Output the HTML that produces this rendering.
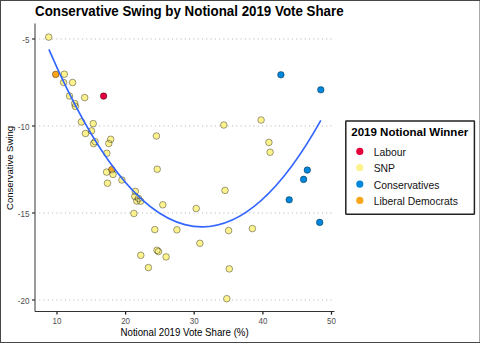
<!DOCTYPE html>
<html><head><meta charset="utf-8"><style>
html,body{margin:0;padding:0;background:#fff;}
svg{display:block;}
text{font-family:"Liberation Sans",sans-serif;}
.tick{font-size:9.2px;fill:#4d4d4d;}
.leg{font-size:10.38px;fill:#111;}
</style></head><body>
<svg width="480" height="343" viewBox="0 0 480 343">
<rect x="0" y="0" width="480" height="343" fill="#fff"/>
<text transform="translate(35,15.9) scale(1,1.06)" style="font-size:13.34px;font-weight:700" fill="#000">Conservative Swing by Notional 2019 Vote Share</text>
<line x1="39.2" y1="39.0" x2="334" y2="39.0" stroke="#b8b8b8" stroke-width="1.1" stroke-dasharray="1.1 3.183"/><line x1="39.2" y1="126.0" x2="334" y2="126.0" stroke="#b8b8b8" stroke-width="1.1" stroke-dasharray="1.1 3.183"/><line x1="39.2" y1="213.0" x2="334" y2="213.0" stroke="#b8b8b8" stroke-width="1.1" stroke-dasharray="1.1 3.183"/><line x1="39.2" y1="300.0" x2="334" y2="300.0" stroke="#b8b8b8" stroke-width="1.1" stroke-dasharray="1.1 3.183"/>
<circle cx="55.7" cy="74.4" r="3.3" fill="#FAA61A"/><circle cx="111.8" cy="169.7" r="3.3" fill="#FAA61A"/><circle cx="103.6" cy="96.1" r="3.3" fill="#E4003B"/><circle cx="48.7" cy="37.1" r="3.3" fill="#FDF38E"/><circle cx="64.3" cy="74.2" r="3.3" fill="#FDF38E"/><circle cx="63.6" cy="82.5" r="3.3" fill="#FDF38E"/><circle cx="72.6" cy="82.5" r="3.3" fill="#FDF38E"/><circle cx="69.5" cy="96.0" r="3.3" fill="#FDF38E"/><circle cx="84.7" cy="97.6" r="3.3" fill="#FDF38E"/><circle cx="74.7" cy="103.5" r="3.3" fill="#FDF38E"/><circle cx="75.4" cy="106.4" r="3.3" fill="#FDF38E"/><circle cx="81.4" cy="121.9" r="3.3" fill="#FDF38E"/><circle cx="93.2" cy="123.6" r="3.3" fill="#FDF38E"/><circle cx="91.5" cy="130.9" r="3.3" fill="#FDF38E"/><circle cx="85.5" cy="133.5" r="3.3" fill="#FDF38E"/><circle cx="95.1" cy="141.6" r="3.3" fill="#FDF38E"/><circle cx="93.6" cy="143.6" r="3.3" fill="#FDF38E"/><circle cx="110.7" cy="139.3" r="3.3" fill="#FDF38E"/><circle cx="108.8" cy="143.5" r="3.3" fill="#FDF38E"/><circle cx="106.8" cy="153.3" r="3.3" fill="#FDF38E"/><circle cx="106.6" cy="172.1" r="3.3" fill="#FDF38E"/><circle cx="113.0" cy="174.4" r="3.3" fill="#FDF38E"/><circle cx="107.5" cy="183.2" r="3.3" fill="#FDF38E"/><circle cx="121.9" cy="180.0" r="3.3" fill="#FDF38E"/><circle cx="135.3" cy="191.4" r="3.3" fill="#FDF38E"/><circle cx="134.8" cy="196.5" r="3.3" fill="#FDF38E"/><circle cx="138.5" cy="198.4" r="3.3" fill="#FDF38E"/><circle cx="136.8" cy="201.0" r="3.3" fill="#FDF38E"/><circle cx="140.6" cy="201.2" r="3.3" fill="#FDF38E"/><circle cx="157.2" cy="169.2" r="3.3" fill="#FDF38E"/><circle cx="162.8" cy="204.8" r="3.3" fill="#FDF38E"/><circle cx="133.9" cy="213.5" r="3.3" fill="#FDF38E"/><circle cx="156.4" cy="136.0" r="3.3" fill="#FDF38E"/><circle cx="223.8" cy="125.0" r="3.3" fill="#FDF38E"/><circle cx="261.1" cy="120.0" r="3.3" fill="#FDF38E"/><circle cx="268.9" cy="142.4" r="3.3" fill="#FDF38E"/><circle cx="270.1" cy="152.2" r="3.3" fill="#FDF38E"/><circle cx="225.0" cy="190.4" r="3.3" fill="#FDF38E"/><circle cx="196.2" cy="208.5" r="3.3" fill="#FDF38E"/><circle cx="228.6" cy="230.6" r="3.3" fill="#FDF38E"/><circle cx="252.4" cy="228.6" r="3.3" fill="#FDF38E"/><circle cx="199.9" cy="243.3" r="3.3" fill="#FDF38E"/><circle cx="154.8" cy="229.6" r="3.3" fill="#FDF38E"/><circle cx="176.9" cy="229.8" r="3.3" fill="#FDF38E"/><circle cx="140.8" cy="255.3" r="3.3" fill="#FDF38E"/><circle cx="157.0" cy="250.3" r="3.3" fill="#FDF38E"/><circle cx="158.5" cy="251.6" r="3.3" fill="#FDF38E"/><circle cx="166.1" cy="256.9" r="3.3" fill="#FDF38E"/><circle cx="148.4" cy="267.6" r="3.3" fill="#FDF38E"/><circle cx="229.3" cy="268.9" r="3.3" fill="#FDF38E"/><circle cx="226.8" cy="298.7" r="3.3" fill="#FDF38E"/><circle cx="280.9" cy="74.8" r="3.3" fill="#0087DC"/><circle cx="320.8" cy="89.8" r="3.3" fill="#0087DC"/><circle cx="307.3" cy="170.1" r="3.3" fill="#0087DC"/><circle cx="303.6" cy="179.4" r="3.3" fill="#0087DC"/><circle cx="289.2" cy="199.8" r="3.3" fill="#0087DC"/><circle cx="319.7" cy="222.4" r="3.3" fill="#0087DC"/><g fill="none" stroke="#000" stroke-opacity="0.55" stroke-width="0.68"><circle cx="48.7" cy="37.1" r="3.3"/><circle cx="64.3" cy="74.2" r="3.3"/><circle cx="63.6" cy="82.5" r="3.3"/><circle cx="72.6" cy="82.5" r="3.3"/><circle cx="69.5" cy="96.0" r="3.3"/><circle cx="84.7" cy="97.6" r="3.3"/><circle cx="74.7" cy="103.5" r="3.3"/><circle cx="75.4" cy="106.4" r="3.3"/><circle cx="81.4" cy="121.9" r="3.3"/><circle cx="93.2" cy="123.6" r="3.3"/><circle cx="91.5" cy="130.9" r="3.3"/><circle cx="85.5" cy="133.5" r="3.3"/><circle cx="95.1" cy="141.6" r="3.3"/><circle cx="93.6" cy="143.6" r="3.3"/><circle cx="110.7" cy="139.3" r="3.3"/><circle cx="108.8" cy="143.5" r="3.3"/><circle cx="106.8" cy="153.3" r="3.3"/><circle cx="106.6" cy="172.1" r="3.3"/><circle cx="113.0" cy="174.4" r="3.3"/><circle cx="107.5" cy="183.2" r="3.3"/><circle cx="121.9" cy="180.0" r="3.3"/><circle cx="135.3" cy="191.4" r="3.3"/><circle cx="134.8" cy="196.5" r="3.3"/><circle cx="138.5" cy="198.4" r="3.3"/><circle cx="136.8" cy="201.0" r="3.3"/><circle cx="140.6" cy="201.2" r="3.3"/><circle cx="157.2" cy="169.2" r="3.3"/><circle cx="162.8" cy="204.8" r="3.3"/><circle cx="133.9" cy="213.5" r="3.3"/><circle cx="156.4" cy="136.0" r="3.3"/><circle cx="223.8" cy="125.0" r="3.3"/><circle cx="261.1" cy="120.0" r="3.3"/><circle cx="268.9" cy="142.4" r="3.3"/><circle cx="270.1" cy="152.2" r="3.3"/><circle cx="225.0" cy="190.4" r="3.3"/><circle cx="196.2" cy="208.5" r="3.3"/><circle cx="228.6" cy="230.6" r="3.3"/><circle cx="252.4" cy="228.6" r="3.3"/><circle cx="199.9" cy="243.3" r="3.3"/><circle cx="154.8" cy="229.6" r="3.3"/><circle cx="176.9" cy="229.8" r="3.3"/><circle cx="140.8" cy="255.3" r="3.3"/><circle cx="157.0" cy="250.3" r="3.3"/><circle cx="158.5" cy="251.6" r="3.3"/><circle cx="166.1" cy="256.9" r="3.3"/><circle cx="148.4" cy="267.6" r="3.3"/><circle cx="229.3" cy="268.9" r="3.3"/><circle cx="226.8" cy="298.7" r="3.3"/><circle cx="55.7" cy="74.4" r="3.3"/><circle cx="111.8" cy="169.7" r="3.3"/><circle cx="103.6" cy="96.1" r="3.3"/><circle cx="280.9" cy="74.8" r="3.3"/><circle cx="320.8" cy="89.8" r="3.3"/><circle cx="307.3" cy="170.1" r="3.3"/><circle cx="303.6" cy="179.4" r="3.3"/><circle cx="289.2" cy="199.8" r="3.3"/><circle cx="319.7" cy="222.4" r="3.3"/></g>
<path d="M48.90,48.41 Q184.85,363.40 320.80,119.45" fill="none" stroke="#3366FF" stroke-width="1.65" transform="translate(0,1.0)"/>
<line x1="35" y1="23.5" x2="35" y2="311.5" stroke="#9a9a9a" stroke-width="2"/>
<line x1="35" y1="311.5" x2="334.5" y2="311.5" stroke="#333" stroke-width="1.1"/>
<line x1="32" y1="39.0" x2="35" y2="39.0" stroke="#222" stroke-width="1.1"/><text transform="translate(29.4,42.75) scale(0.87,1.04)" text-anchor="end" class="tick">-5</text><line x1="32" y1="126.0" x2="35" y2="126.0" stroke="#222" stroke-width="1.1"/><text transform="translate(29.4,129.75) scale(0.87,1.04)" text-anchor="end" class="tick">-10</text><line x1="32" y1="213.0" x2="35" y2="213.0" stroke="#222" stroke-width="1.1"/><text transform="translate(29.4,216.75) scale(0.87,1.04)" text-anchor="end" class="tick">-15</text><line x1="32" y1="300.0" x2="35" y2="300.0" stroke="#222" stroke-width="1.1"/><text transform="translate(29.4,303.75) scale(0.87,1.04)" text-anchor="end" class="tick">-20</text>
<line x1="57.0" y1="311.5" x2="57.0" y2="314.6" stroke="#1a1a1a" stroke-width="1.25"/><text transform="translate(57.00,324.1) scale(0.87,1.04)" text-anchor="middle" class="tick">10</text><line x1="125.6" y1="311.5" x2="125.6" y2="314.6" stroke="#1a1a1a" stroke-width="1.25"/><text transform="translate(125.62,324.1) scale(0.87,1.04)" text-anchor="middle" class="tick">20</text><line x1="194.2" y1="311.5" x2="194.2" y2="314.6" stroke="#1a1a1a" stroke-width="1.25"/><text transform="translate(194.25,324.1) scale(0.87,1.04)" text-anchor="middle" class="tick">30</text><line x1="262.9" y1="311.5" x2="262.9" y2="314.6" stroke="#1a1a1a" stroke-width="1.25"/><text transform="translate(262.88,324.1) scale(0.87,1.04)" text-anchor="middle" class="tick">40</text><line x1="331.5" y1="311.5" x2="331.5" y2="314.6" stroke="#1a1a1a" stroke-width="1.25"/><text transform="translate(331.50,324.1) scale(0.87,1.04)" text-anchor="middle" class="tick">50</text>
<text transform="translate(13.2,168) rotate(-90)" text-anchor="middle" style="font-size:9.5px" fill="#000">Conservative Swing</text>
<text transform="translate(184.6,335.5) scale(1,1.1)" text-anchor="middle" style="font-size:9.7px" fill="#000">Notional 2019 Vote Share (%)</text>
<rect x="345.8" y="121" width="128.6" height="93.2" rx="0.4" fill="#fff" stroke="#222" stroke-width="1.5"/>
<text x="351.3" y="136.4" style="font-size:11.52px;font-weight:700" fill="#000">2019 Notional Winner</text>
<circle cx="359.8" cy="151.4" r="3.6" fill="#E4003B"/><text x="373.7" y="155.9" class="leg">Labour</text><circle cx="359.8" cy="167.7" r="3.6" fill="#FDF38E"/><text x="373.7" y="172.2" class="leg">SNP</text><circle cx="359.8" cy="184.1" r="3.6" fill="#0087DC"/><text x="373.7" y="188.6" class="leg">Conservatives</text><circle cx="359.8" cy="200.4" r="3.6" fill="#FAA61A"/><text x="373.7" y="204.9" class="leg">Liberal Democrats</text>
<rect x="0" y="0" width="480" height="1" fill="#474747"/>
<rect x="0" y="0" width="1" height="343" fill="#474747"/>
<rect x="0" y="342" width="480" height="1" fill="#474747"/>
<rect x="479" y="1" width="1" height="341" fill="#aaa"/>
</svg>
</body></html>
